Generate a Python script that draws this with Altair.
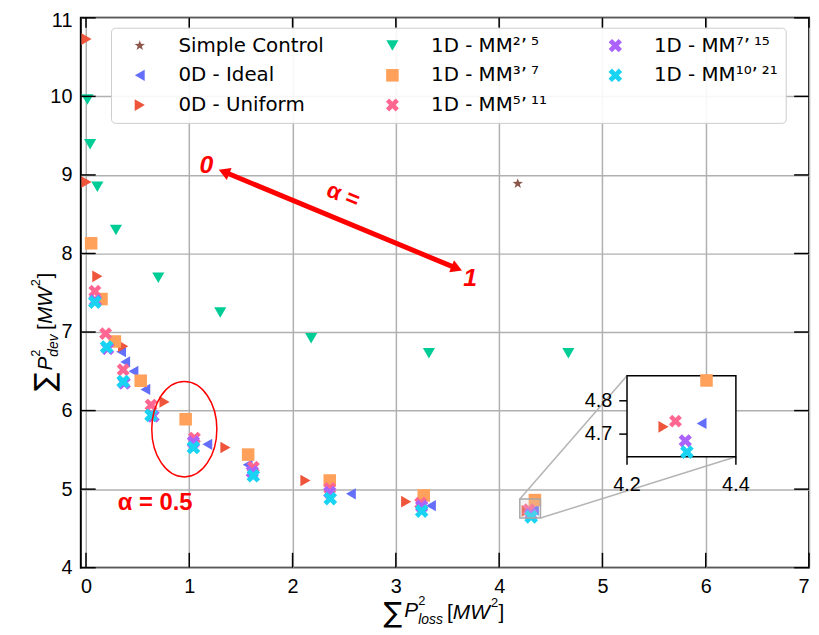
import altair as alt
import pandas as pd

# ---------------- data ----------------
PAD = "\u2002" * 5
series = ["Simple Control", "0D - Ideal", "0D - Uniform",
          "1D - MM²’\u2009⁵", "1D - MM³’\u2009⁷", "1D - MM⁵’\u2009¹¹",
          "1D - MM⁷’\u2009¹⁵", "1D - MM¹⁰’\u2009²¹"]
legend_labels = series[:6] + [s + PAD for s in series[6:]]

sc_x = [4.18]
sc_y = [8.89]
ideal_x = [0.34, 0.38, 0.46, 0.575, 1.175, 1.565, 2.565, 3.34, 4.337]
ideal_y = [6.75, 6.62, 6.50, 6.27, 5.57, 5.31, 4.94, 4.79, 4.732]
unif_x = [0.005, 0.005, 0.11, 0.36, 0.76, 1.35, 2.125, 3.10, 4.267]
unif_y = [10.73, 8.91, 7.71, 6.82, 6.11, 5.53, 5.11, 4.84, 4.722]
mm25_x = [0.014, 0.04, 0.11, 0.29, 0.70, 1.30, 2.18, 3.32, 4.67]
mm25_y = [9.96, 9.39, 8.85, 8.30, 7.69, 7.25, 6.92, 6.73, 6.73]
mm37_x = [0.05, 0.15, 0.28, 0.53, 0.965, 1.57, 2.36, 3.27, 4.346]
mm37_y = [8.13, 7.42, 6.88, 6.38, 5.89, 5.44, 5.11, 4.92, 4.861]
mm511_x = [0.086, 0.19, 0.36, 0.63, 1.05, 1.62, 2.36, 3.24, 4.289]
mm511_y = [7.52, 6.98, 6.52, 6.07, 5.65, 5.28, 5.01, 4.82, 4.739]
mm715_x = [0.09, 0.21, 0.37, 0.65, 1.04, 1.61, 2.36, 3.25, 4.307]
mm715_y = [7.40, 6.79, 6.35, 5.93, 5.60, 5.22, 4.96, 4.78, 4.680]
mm1021_x = [0.086, 0.20, 0.36, 0.63, 1.04, 1.62, 2.365, 3.25, 4.31]
mm1021_y = [7.38, 6.81, 6.37, 5.94, 5.53, 5.17, 4.88, 4.72, 4.646]

x_ticks = [0, 1, 2, 3, 4, 5, 6, 7]
y_ticks = [4, 5, 6, 7, 8, 9, 10, 11]
inset_xdom = [4.2, 4.4]
inset_ydom = [4.632, 4.875]
inset_xticks = [4.2, 4.4]
inset_yticks = [4.7, 4.8]

arrow_ends_x = [1.336, 3.59]
arrow_ends_y = [9.04, 7.81]
ellipse_x = [0.952]
ellipse_y = [5.763]

# ---------------- styles ----------------
W, H = 735, 555
STAR = ("M 0 -1 L 0.235 -0.324 L 0.951 -0.309 L 0.380 0.124 L 0.588 0.809 "
        "L 0 0.4 L -0.588 0.809 L -0.380 0.124 L -0.951 -0.309 L -0.235 -0.324 Z")
XSHAPE = ("M -1 -0.5 L -0.5 -1 L 0 -0.5 L 0.5 -1 L 1 -0.5 L 0.5 0 L 1 0.5 "
          "L 0.5 1 L 0 0.5 L -0.5 1 L -1 0.5 L -0.5 0 Z")
ELLIPSE = ("M 0.682 0 C 0.682 0.5523 0.3767 1 0 1 C -0.3767 1 -0.682 0.5523 -0.682 0 "
           "C -0.682 -0.5523 -0.3767 -1 0 -1 C 0.3767 -1 0.682 -0.5523 0.682 0 Z")

colors = ["#8c564b", "#636efa", "#ef553b", "#00cc96", "#ffa15a", "#ff6692", "#ab63fa", "#19d3f3"]
shapes = [STAR, "triangle-left", "triangle-right", "triangle-down", "square", XSHAPE, XSHAPE, XSHAPE]
sizes = [120, 190, 190, 210, 150, 150, 150, 150]
legend_order = list(legend_labels)

# inset placement in main-axis data units
IX0, IX1, IY0, IY1 = 5.238, 6.292, 5.412, 6.443

# ---------------- tables ----------------
all_x = [sc_x, ideal_x, unif_x, mm25_x, mm37_x, mm511_x, mm715_x, mm1021_x]
all_y = [sc_y, ideal_y, unif_y, mm25_y, mm37_y, mm511_y, mm715_y, mm1021_y]
rows = []
for k, (name, xs, ys) in enumerate(zip(legend_labels, all_x, all_y)):
    for i, (a, b) in enumerate(zip(xs, ys)):
        rows.append({"s": name, "x": a, "y": b, "o": k * 100 + i})
df = pd.DataFrame(rows)

dfi = df[(df.x >= inset_xdom[0]) & (df.x <= inset_xdom[1]) &
         (df.y >= inset_ydom[0]) & (df.y <= inset_ydom[1])].copy()
dfi["x"] = IX0 + (dfi.x - inset_xdom[0]) / (inset_xdom[1] - inset_xdom[0]) * (IX1 - IX0)
dfi["y"] = IY0 + (dfi.y - inset_ydom[0]) / (inset_ydom[1] - inset_ydom[0]) * (IY1 - IY0)

xsc = alt.Scale(domain=[-0.05, 7], nice=False, zero=False)
ysc = alt.Scale(domain=[4, 11], nice=False, zero=False)
FONT = "Liberation Sans"
LFONT = "DejaVu Sans"
xax = alt.Axis(values=x_ticks, title=None, grid=True, ticks=False, domain=False,
               labelPadding=9, labelFont=FONT, labelFontSize=20, labelColor="black",
               gridColor="#b0b0b0", gridWidth=1.5, labelFlush=False,
               labelAlign=alt.ExprRef(expr="datum.value == 7 ? 'right' : 'center'"))
yax = alt.Axis(values=y_ticks, title=None, grid=True, ticks=False, domain=False,
               labelPadding=9, labelFont=FONT, labelFontSize=20, labelColor="black",
               gridColor="#b0b0b0", gridWidth=1.5, labelFlush=False,
               labelOffset=alt.ExprRef(expr="datum.value == 11 ? 3 : 0"))


def X(f="x"):
    return alt.X(f, type="quantitative", scale=xsc, axis=xax)


def Y(f="y"):
    return alt.Y(f, type="quantitative", scale=ysc, axis=yax)


leg = alt.Legend(orient="none", legendX=30.5, legendY=10, columns=3, title=None,
                 padding=8, strokeColor="#cccccc", fillColor="rgba(255,255,255,0.9)",
                 cornerRadius=4, labelFont=LFONT, labelFontSize=20, labelColor="black",
                 symbolSize=150, symbolOffset=11, labelOffset=29, rowPadding=10,
                 columnPadding=48, symbolStrokeWidth=0, labelLimit=400)

enc_common = dict(
    color=alt.Color("s:N", scale=alt.Scale(domain=legend_order, range=colors), legend=leg),
    shape=alt.Shape("s:N", scale=alt.Scale(domain=legend_order, range=shapes), legend=leg),
    size=alt.Size("s:N", scale=alt.Scale(domain=legend_order, range=sizes), legend=None),
    order=alt.Order("o:Q"),
)

points = alt.Chart(df).mark_point(filled=True, opacity=1).encode(x=X(), y=Y(), **enc_common)

# zoom source rectangle and connectors
src = pd.DataFrame({"x": [inset_xdom[0]], "x2": [inset_xdom[1]], "y": [inset_ydom[0]], "y2": [inset_ydom[1]]})
src_rect = alt.Chart(src).mark_rect(fill="#d0d0d0", fillOpacity=0.25, stroke="#a8a8a8", strokeWidth=1.5).encode(
    x=X(), x2="x2", y=Y(), y2="y2")
conn = pd.DataFrame({"x": [inset_xdom[0], inset_xdom[1]], "y": [inset_ydom[1], inset_ydom[0]],
                     "x2": [IX0, IX1], "y2": [IY1, IY0]})
conn_lines = alt.Chart(conn).mark_rule(color="#b4b4b4", strokeWidth=1.5).encode(x=X(), y=Y(), x2="x2", y2="y2")

box = pd.DataFrame({"x": [IX0], "x2": [IX1], "y": [IY0], "y2": [IY1]})
inset_box = alt.Chart(box).mark_rect(fill="white", stroke="black", strokeWidth=1.5).encode(
    x=X(), x2="x2", y=Y(), y2="y2")
inset_pts = alt.Chart(dfi).mark_point(filled=True, opacity=1).encode(x=X(), y=Y(), **enc_common)

ixt = pd.DataFrame({"v": inset_xticks, "lab": [f"{v:.1f}" for v in inset_xticks]})
ixt["x"] = IX0 + (ixt.v - inset_xdom[0]) / (inset_xdom[1] - inset_xdom[0]) * (IX1 - IX0)
ixt["y"] = IY0
ixt["y2"] = IY0 - 0.10
iyt = pd.DataFrame({"v": inset_yticks, "lab": [f"{v:.1f}" for v in inset_yticks]})
iyt["y"] = IY0 + (iyt.v - inset_ydom[0]) / (inset_ydom[1] - inset_ydom[0]) * (IY1 - IY0)
iyt["x"] = IX0
iyt["x2"] = IX0 - 0.075
ix_ticks = alt.Chart(ixt).mark_rule(color="black", strokeWidth=1.5).encode(x=X(), y=Y(), y2="y2")
iy_ticks = alt.Chart(iyt).mark_rule(color="black", strokeWidth=1.5).encode(x=X(), x2="x2", y=Y())
ix_labs = alt.Chart(ixt).mark_text(font=FONT, fontSize=20, baseline="top", dy=19, color="black").encode(
    x=X(), y=Y(), text="lab:N")
iy_labs = alt.Chart(iyt).mark_text(font=FONT, fontSize=20, align="right", baseline="middle", dx=-15,
                                   color="black").encode(x=X(), y=Y(), text="lab:N")

# inward tick marks on all four sides
xt = pd.DataFrame({"v": x_ticks})
yt = pd.DataFrame({"v": y_ticks})
t_bot = alt.Chart(xt).mark_rule(color="black", strokeWidth=1.5).encode(x=X("v"), y=alt.value(H), y2=alt.value(H - 15))
t_top = alt.Chart(xt).mark_rule(color="black", strokeWidth=1.5).encode(x=X("v"), y=alt.value(0), y2=alt.value(10))
t_lft = alt.Chart(yt).mark_rule(color="black", strokeWidth=1.5).encode(y=Y("v"), x=alt.value(0), x2=alt.value(15))
t_rgt = alt.Chart(yt).mark_rule(color="black", strokeWidth=1.5).encode(y=Y("v"), x=alt.value(W), x2=alt.value(W - 15))

# annotations
arr = pd.DataFrame({"x": [arrow_ends_x[0]], "y": [arrow_ends_y[0]], "x2": [arrow_ends_x[1]], "y2": [arrow_ends_y[1]]})
shaft = alt.Chart(arr).mark_rule(color="#ff0000", strokeWidth=5).encode(x=X(), y=Y(), x2="x2", y2="y2")
heads = alt.Chart(pd.DataFrame({"x": arrow_ends_x, "y": arrow_ends_y, "a": [292, 112]})).mark_point(
    shape="triangle-up", filled=True, color="#ff0000", opacity=1, size=170).encode(
    x=X(), y=Y(), angle=alt.Angle("a:Q", scale=None))
ell = alt.Chart(pd.DataFrame({"x": ellipse_x, "y": ellipse_y})).mark_point(
    shape=ELLIPSE, filled=False, color="#ff0000", opacity=1, strokeWidth=1.5, size=9274).encode(x=X(), y=Y())


def dtext(t, x, y, size, style="normal", angle=0):
    return alt.Chart(pd.DataFrame({"x": [x], "y": [y]})).mark_text(
        text=t, font=FONT, fontSize=size, fontWeight="bold", fontStyle=style, color="#ff0000",
        angle=angle, align="center", baseline="middle").encode(x=X(), y=Y())


ann = [
    dtext("0", 1.166, 9.12, 25, "italic"),
    dtext("1", 3.72, 7.69, 25, "italic"),
    dtext("α =", 2.49, 8.74, 23, "normal", 22),
    dtext("α = 0.5", 0.67, 4.82, 24),
]


def ptext(t, x, y, size, italic=False, angle=0, font=FONT):
    return alt.Chart(pd.DataFrame({"t": [t]})).mark_text(
        text=t, font=font, fontSize=size, fontStyle="italic" if italic else "normal",
        color="black", align="left", baseline="alphabetic", angle=angle).encode(
        x=alt.value(x), y=alt.value(y))


xtitle = [
    ptext("∑", 305.5, 610, 28, font=LFONT),
    ptext("P", 326.5, 605, 21, True),
    ptext("2", 340.5, 593, 13),
    ptext("loss", 340.5, 612, 14, True),
    ptext("[", 369.5, 607, 21),
    ptext("MW", 375.5, 607, 21, True),
    ptext("2", 414, 595, 13),
    ptext("]", 421.5, 607, 21),
]
ytitle = [
    ptext("∑", -27.5, 377, 28, angle=270, font=LFONT),
    ptext("P", -29.5, 356, 21, True, 270),
    ptext("2", -41.5, 342, 13, angle=270),
    ptext("dev", -23.5, 342, 14, True, 270),
    ptext("[", -29.5, 315, 21, angle=270),
    ptext("MW", -29.5, 309, 21, True, 270),
    ptext("2", -41.5, 271, 13, angle=270),
    ptext("]", -29.5, 263, 21, angle=270),
]

chart = alt.layer(
    points, src_rect, conn_lines, inset_box, inset_pts, ix_ticks, iy_ticks, ix_labs, iy_labs,
    t_bot, t_top, t_lft, t_rgt, shaft, heads, ell, *ann, *xtitle, *ytitle
).properties(
    width=W, height=H,
    padding={"left": 73.5, "top": 7, "right": 2, "bottom": 64},
    autosize=alt.AutoSizeParams(type="none"),
    background="white",
).configure_view(stroke="black", strokeWidth=2)

chart.save("out.html", embed_options={"renderer": "svg", "actions": False})
